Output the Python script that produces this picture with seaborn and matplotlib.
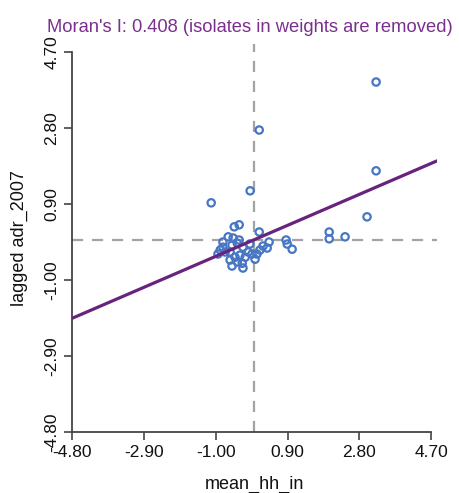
import numpy as np
import pandas as pd
import matplotlib
matplotlib.use("Agg")
import matplotlib.pyplot as plt
import seaborn as sns

# ================================
# Data
# ================================
mean_hh_in = [3.24, 3.24, 0.15, 3.00, 2.42, 2.00, 2.00, -0.09, -1.12, 0.86,
              0.89, 1.02, -0.51, -0.38, 0.15, -0.67, -0.38, 0.41, 0.36, 0.17,
              0.09, 0.04, -0.14, -0.28, -0.43, -0.57, -0.81, -0.88, -0.94, -0.75,
              -0.62, -0.49, -0.36, -0.22, -0.62, -0.57, -0.43, -0.30, -0.28, -0.04,
              -0.81, -0.54, 0.25, -0.10]
lagged_adr_2007 = [3.95, 1.73, 2.75, 0.58, 0.08, 0.20, 0.03, 1.23, 0.93, 0.00,
                   -0.10, -0.23, 0.33, 0.38, 0.20, 0.08, 0.00, -0.05, -0.20, -0.25,
                   -0.35, -0.48, -0.30, -0.18, -0.08, -0.13, -0.18, -0.25, -0.35, -0.30,
                   -0.30, -0.43, -0.38, -0.43, -0.50, -0.65, -0.55, -0.58, -0.70, -0.35,
                   -0.05, 0.05, -0.15, -0.10]

morans_i = 0.408
intercept = 0.0
ticks = [-4.80, -2.90, -1.00, 0.90, 2.80, 4.70]

df = pd.DataFrame({"mean_hh_in": mean_hh_in, "lagged adr_2007": lagged_adr_2007})

# ================================
# Plot
# ================================
sns.set_style("ticks")
plt.rcParams["font.family"] = ["Liberation Sans", "DejaVu Sans"]

fig = plt.figure(figsize=(4.6, 4.93), dpi=100)
ax = fig.add_axes([0.1565, 0.1237, 0.7935, 0.787])

xlim = (-4.8, 4.85)
ylim = (-4.8, 4.9)

# mean lines
ax.axvline(0, color="#a3a3a3", lw=1.6, dashes=(5, 4), zorder=1)
ax.axhline(0, color="#a3a3a3", lw=1.6, dashes=(5, 4), zorder=1)

sns.scatterplot(data=df, x="mean_hh_in", y="lagged adr_2007", ax=ax,
                marker="o", s=28, facecolors="none", edgecolors="#4676c4",
                linewidth=1.6, zorder=3)

# regression line, slope = Moran's I
xs = np.array(xlim)
ax.plot(xs, intercept + morans_i * xs, color="#68237d", lw=2.3, zorder=4)

ax.set_xlim(*xlim)
ax.set_ylim(*ylim)
ax.set_xticks(ticks)
ax.set_yticks(ticks)
ax.set_xticklabels([f"{t:.2f}" for t in ticks])
ax.set_yticklabels([f"{t:.2f}" for t in ticks], rotation=90, va="center")

sns.despine(ax=ax)
for side in ["left", "bottom"]:
    ax.spines[side].set_color("#444444")
    ax.spines[side].set_linewidth(1.3)
ax.spines["left"].set_bounds(-4.8, 4.7)
ax.spines["bottom"].set_bounds(-4.8, 4.7)
ax.tick_params(axis="both", direction="out", length=6, width=1.2,
               color="#444444", labelsize=12.5, labelcolor="#111111", pad=3)

ax.set_xlabel("mean_hh_in", fontsize=13, color="#111111", labelpad=12)
ax.set_ylabel("lagged adr_2007", fontsize=13, color="#111111", labelpad=12)
ax.set_title(f"Moran's I: {morans_i:.3f} (isolates in weights are removed)",
             fontsize=13.2, color="#7b2f8f", pad=9, x=0.487)

plt.savefig("out.png", dpi=100)
plt.close()
